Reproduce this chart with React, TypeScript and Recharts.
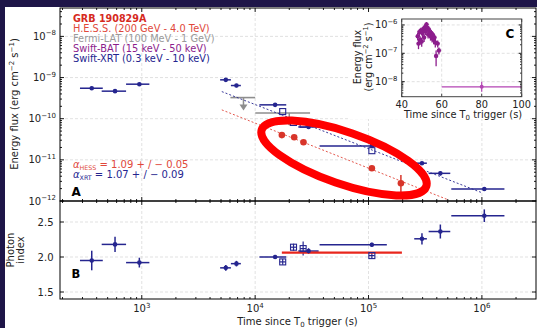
import React from 'react';
import { ScatterChart, Scatter, XAxis, YAxis, ErrorBar, ReferenceLine } from 'recharts';

const FONT = "'DejaVu Sans', sans-serif";
const NAVY = '#25258f';
const RED = '#d8352a';
const GRAY = '#8e8e8e';
const PURPLE = '#8c1d8c';
const MAGENTA = '#b345b3';
const GRID = '#d9d9d9';

// Swift-XRT, filled markers (flux in panel A, photon index in panel B)
const xrtTime = [362, 581, 952, 5510, 6840, 15000, 29600, 107000, 296000, 430000, 1050000];
const xrtTimeStart = [285, 443, 727, 4910, 6110, 10900, 24000, 37000, 253000, 339000, 537000];
const xrtTimeEnd = [453, 727, 1167, 6110, 7480, 18800, 36300, 145000, 327000, 526000, 1580000];
const xrtFlux = [5.5e-10, 4.67e-10, 6.9e-10, 8.8e-10, 6.4e-10, 2.17e-10, 6.3e-11, 2.18e-11, 8.3e-12, 4.7e-12, 1.96e-12];
const xrtFluxErr = [0.5e-10, 0.4e-10, 0.6e-10, 0.8e-10, 0.6e-10, 0.2e-10, 0.6e-11, 0.2e-11, 0.8e-12, 0.5e-12, 0.2e-12];
const xrtIndex = [1.95, 2.18, 1.92, 1.845, 1.905, 2.0, 2.085, 2.175, 2.26, 2.364, 2.59];
const xrtIndexErr = [0.14, 0.11, 0.07, 0.04, 0.04, 0.03, 0.04, 0.03, 0.08, 0.1, 0.09];

// Swift-XRT, open squares
const sqTime = [17500, 21800, 26500, 107000];
const sqFlux = [1.49e-10, 8.1e-11, 7.3e-11, 1.67e-11];
const sqIndex = [1.93, 2.14, 2.12, 2.02];
const sqIndexErr = [0.04, 0.05, 0.1, 0.04];

// H.E.S.S.
const hessTime = [17200, 22100, 26700, 107000, 193000];
const hessFlux = [4.0e-11, 3.55e-11, 2.68e-11, 6.25e-12, 2.7e-12];
const hessErrLo = [4e-12, 4e-12, 3e-12, 8e-13, 1.38e-12];
const hessErrHi = [4e-12, 4e-12, 3e-12, 8e-13, 1.6e-12];
const hessIndexTime = [17200, 197000];
const hessIndex = [2.062, 2.062];

// power-law fits (end points)
const hessFitTime = [5080, 508000];
const hessFitFlux = [1.64e-10, 1.06e-12];
const xrtFitTime = [5080, 1000000];
const xrtFitFlux = [4.56e-10, 1.59e-12];

// Fermi-LAT upper limits
const latTime = [7890, 20000];
const latStart = [6050, 10030];
const latEnd = [10000, 30500];
const latFlux = [3.26e-10, 1.38e-10];

// Swift-BAT (inset)
const batTime = [48, 48.4, 48.8, 49.2, 49.6, 50, 50.4, 50.8, 51.2, 51.6, 52, 52.4, 52.8, 53.2, 53.6, 54, 54.4, 54.8, 55.2, 55.6, 56, 56.4, 56.8, 57.2, 58, 58.6];
const batFlux = [4.0e-7, 2.2e-7, 5.6e-7, 3.0e-7, 6.4e-7, 2.6e-7, 5.0e-7, 7.2e-7, 3.6e-7, 8.4e-7, 6.0e-7, 1.05e-6, 8.0e-7, 4.6e-7, 7.0e-7, 5.4e-7, 4.0e-7, 5.2e-7, 3.4e-7, 4.4e-7, 3.0e-7, 3.6e-7, 2.4e-7, 0.8e-7, 2.2e-7, 1.25e-7];
const batErr = [1.2e-7, 0.8e-7, 1.5e-7, 1.0e-7, 1.6e-7, 0.9e-7, 1.4e-7, 1.8e-7, 1.1e-7, 2.0e-7, 1.6e-7, 2.2e-7, 2.0e-7, 1.3e-7, 1.8e-7, 1.5e-7, 1.2e-7, 1.4e-7, 1.0e-7, 1.2e-7, 0.9e-7, 1.0e-7, 0.8e-7, 0.45e-7, 0.6e-7, 0.35e-7];
const batLateTime = [80];
const batLateStart = [60];
const batLateEnd = [100];
const batLateFlux = [6.6e-9];
const batLateErrLo = [2.2e-9];
const batLateErrHi = [3.4e-9];

// ticks
const xMajors = [1e3, 1e4, 1e5, 1e6];
const xExps = ['3', '4', '5', '6'];
const fluxMajors = [1e-12, 1e-11, 1e-10, 1e-9, 1e-8];
const fluxExps = ['12', '11', '10', '9', '8'];
const idxMajors = [1.5, 2.0, 2.5];
const idxLabels = ['1.5', '2.0', '2.5'];
const insetXMajors = [40, 60, 80, 100];
const insetYMajors = [1e-8, 1e-7, 1e-6];
const insetYExps = ['8', '7', '6'];
const mults = [1, 2, 3, 4, 5, 6, 7, 8, 9];

const logTicks = (decades: number[], lo: number, hi: number) =>
  decades.flatMap((d) => mults.map((m) => m * d)).filter((v) => v >= lo && v <= hi);

const X_DOMAIN = [190, 3e6];
const FLUX_DOMAIN = [1e-12, 4.9e-8];
const IDX_DOMAIN = [1.4, 2.8];
const INSET_X_DOMAIN = [40, 100];
const INSET_Y_DOMAIN = [2.95e-9, 1.62e-6];

const xTicks = logTicks([1e2, 1e3, 1e4, 1e5, 1e6], X_DOMAIN[0], 2.9e6);
const fluxTicks = logTicks([1e-12, 1e-11, 1e-10, 1e-9, 1e-8], FLUX_DOMAIN[0], FLUX_DOMAIN[1]);
const insetYTicks = logTicks([1e-9, 1e-8, 1e-7, 1e-6], INSET_Y_DOMAIN[0], INSET_Y_DOMAIN[1]);

// plot boxes
const A = { left: 60, right: 536, top: 8, bottom: 201 };
const B = { left: 60, right: 536, top: 201, bottom: 299 };
const C = { left: 401.7, right: 521.7, top: 19, bottom: 96.7 };

const xrtA = xrtTime.map((t, i) => ({ x: t, y: xrtFlux[i], ex: [t - xrtTimeStart[i], xrtTimeEnd[i] - t], ey: xrtFluxErr[i] }));
const xrtB = xrtTime.map((t, i) => ({ x: t, y: xrtIndex[i], ex: [t - xrtTimeStart[i], xrtTimeEnd[i] - t], ey: xrtIndexErr[i] }));
const sqA = sqTime.map((t, i) => ({ x: t, y: sqFlux[i] }));
const sqB = sqTime.map((t, i) => ({ x: t, y: sqIndex[i], ex: t * 0.06, ey: sqIndexErr[i] }));
const hessA = hessTime.map((t, i) => ({ x: t, y: hessFlux[i], ex: t * 0.05, ey: [hessErrLo[i], hessErrHi[i]] }));
const hessB = hessIndexTime.map((t, i) => ({ x: t, y: hessIndex[i] }));
const hessFit = hessFitTime.map((t, i) => ({ x: t, y: hessFitFlux[i] }));
const xrtFit = xrtFitTime.map((t, i) => ({ x: t, y: xrtFitFlux[i] }));
const latA = latTime.map((t, i) => ({ x: t, y: latFlux[i], ex: [t - latStart[i], latEnd[i] - t] }));
const bat = batTime.map((t, i) => ({ x: t, y: batFlux[i], ex: 0.2, ey: batErr[i] }));
const batLate = batLateTime.map((t, i) => ({ x: t, y: batLateFlux[i], ex: [t - batLateStart[i], batLateEnd[i] - t], ey: [batLateErrLo[i], batLateErrHi[i]] }));

const pow10 = (exp: string, fs: number) => (
  <>
    <tspan>10</tspan>
    <tspan dy={-4.5} fontSize={fs * 0.7}>{'\u2212' + exp}</tspan>
  </>
);

const xTick = (box: any, majors: number[], labels: string[] | null) => (p: any) => {
  const v = p.payload.value;
  const x = p.x;
  const i = majors.indexOf(v);
  const len = i >= 0 ? 4 : 2;
  return (
    <g>
      <line x1={x} x2={x} y1={box.bottom} y2={box.bottom - len} stroke="#000" strokeWidth={0.9} />
      <line x1={x} x2={x} y1={box.top} y2={box.top + len} stroke="#000" strokeWidth={0.9} />
      {labels && i >= 0 && (
        <text x={x} y={box.bottom + 13} textAnchor="middle" fontSize={10} fontFamily={FONT} fill="#222">
          <tspan>10</tspan>
          <tspan dy={-4.5} fontSize={7}>{labels[i]}</tspan>
        </text>
      )}
    </g>
  );
};

const yTick = (box: any, majors: number[], render: (i: number) => any, labelX: number, fs: number, big = 4, small = 2) => (p: any) => {
  const v = p.payload.value;
  const y = p.y;
  const i = majors.indexOf(v);
  const len = i >= 0 ? big : small;
  return (
    <g>
      <line x1={box.left} x2={box.left + len} y1={y} y2={y} stroke="#000" strokeWidth={0.9} />
      <line x1={box.right - len} x2={box.right} y1={y} y2={y} stroke="#000" strokeWidth={0.9} />
      {i >= 0 && (
        <text x={labelX} y={y + 3.5} textAnchor="end" fontSize={fs} fontFamily={FONT} fill="#222">
          {render(i)}
        </text>
      )}
    </g>
  );
};

const insetXTick = (p: any) => {
  const v = p.payload.value;
  const x = p.x;
  return (
    <g>
      <line x1={x} x2={x} y1={C.bottom} y2={C.bottom - 3} stroke="#333" strokeWidth={0.9} />
      <line x1={x} x2={x} y1={C.top} y2={C.top + 3} stroke="#333" strokeWidth={0.9} />
      <text x={x} y={108} textAnchor="middle" fontSize={9.8} fontFamily={FONT} fill="#222">{v}</text>
    </g>
  );
};

const dot = (r: number, fill: string) => (p: any) => <circle cx={p.cx} cy={p.cy} r={r} fill={fill} />;
const openSquare = (p: any) => (
  <rect x={p.cx - 3} y={p.cy - 3} width={6} height={6} fill="none" stroke={NAVY} strokeWidth={1.1} />
);
const ulArrow = (p: any) => (
  <g>
    <line x1={p.cx} x2={p.cx} y1={p.cy} y2={p.cy + 8} stroke={GRAY} strokeWidth={1.5} />
    <path d={`M${p.cx - 4},${p.cy + 7} L${p.cx + 4},${p.cy + 7} L${p.cx},${p.cy + 13} Z`} fill={GRAY} />
  </g>
);
const noMark = () => <g />;

const gridLines = (xs: number[], ys: number[]) => [
  ...xs.map((v) => <ReferenceLine key={'gx' + v} x={v} stroke={GRID} strokeDasharray="3 2" strokeWidth={0.8} />),
  ...ys.map((v) => <ReferenceLine key={'gy' + v} y={v} stroke={GRID} strokeDasharray="3 2" strokeWidth={0.8} />),
];

const abs: React.CSSProperties = { position: 'absolute', left: 0, top: 0 };

export default function App() {
  return (
    <div style={{ position: 'absolute', left: 0, top: 0, width: 537, height: 328, background: '#1e1548', overflow: 'hidden', fontFamily: FONT }}>
      <div style={{ position: 'absolute', left: 5, top: 7, width: 532, height: 321, background: '#fff' }} />

      {/* panel A: energy flux */}
      <div style={abs}>
        <ScatterChart width={537} height={328} margin={{ top: A.top, right: 537 - A.right, bottom: 328 - A.bottom - 20, left: 0 }}>
          <XAxis type="number" dataKey="x" scale="log" domain={X_DOMAIN} allowDataOverflow ticks={xTicks} interval={0}
            tick={xTick(A, xMajors, null)} tickLine={false} axisLine={false} height={20} />
          <YAxis type="number" dataKey="y" scale="log" domain={FLUX_DOMAIN} allowDataOverflow ticks={fluxTicks} interval={0}
            tick={yTick(A, fluxMajors, (i) => pow10(fluxExps[i], 10), 56, 10)} tickLine={false} axisLine={false} width={A.left} />
          {gridLines(xMajors, [1e-11, 1e-10, 1e-9, 1e-8])}
          <Scatter data={xrtFit} shape={noMark} line={{ stroke: NAVY, strokeWidth: 0.9, strokeDasharray: '2 2' }} isAnimationActive={false} />
          <Scatter data={hessFit} shape={noMark} line={{ stroke: '#e0453a', strokeWidth: 0.9, strokeDasharray: '2 2' }} isAnimationActive={false} />
          <Scatter data={latA} shape={ulArrow} isAnimationActive={false}>
            <ErrorBar dataKey="ex" direction="x" width={0} stroke={GRAY} strokeWidth={1.6} />
          </Scatter>
          <Scatter data={xrtA} shape={dot(2.3, NAVY)} isAnimationActive={false}>
            <ErrorBar dataKey="ex" direction="x" width={0} stroke={NAVY} strokeWidth={1.5} />
            <ErrorBar dataKey="ey" direction="y" width={0} stroke={NAVY} strokeWidth={1.5} />
          </Scatter>
          <Scatter data={sqA} shape={openSquare} isAnimationActive={false} />
          <Scatter data={hessA} shape={dot(3.3, RED)} isAnimationActive={false}>
            <ErrorBar dataKey="ex" direction="x" width={0} stroke={RED} strokeWidth={1.5} />
            <ErrorBar dataKey="ey" direction="y" width={0} stroke={RED} strokeWidth={1.5} />
          </Scatter>
        </ScatterChart>
      </div>

      {/* panel B: photon index */}
      <div style={abs}>
        <ScatterChart width={537} height={328} margin={{ top: B.top, right: 537 - B.right, bottom: 0, left: 0 }}>
          <XAxis type="number" dataKey="x" scale="log" domain={X_DOMAIN} allowDataOverflow ticks={xTicks} interval={0}
            tick={xTick(B, xMajors, xExps)} tickLine={false} axisLine={false} height={328 - B.bottom} />
          <YAxis type="number" dataKey="y" domain={IDX_DOMAIN} allowDataOverflow ticks={idxMajors} interval={0}
            tick={yTick(B, idxMajors, (i) => idxLabels[i], 53.5, 10)} tickLine={false} axisLine={false} width={B.left} />
          {gridLines(xMajors, idxMajors)}
          <Scatter data={hessB} shape={noMark} line={{ stroke: '#e8261c', strokeWidth: 2.2 }} isAnimationActive={false} />
          <Scatter data={xrtB} shape={dot(2.3, NAVY)} isAnimationActive={false}>
            <ErrorBar dataKey="ex" direction="x" width={0} stroke={NAVY} strokeWidth={1.5} />
            <ErrorBar dataKey="ey" direction="y" width={0} stroke={NAVY} strokeWidth={1.5} />
          </Scatter>
          <Scatter data={sqB} shape={openSquare} isAnimationActive={false}>
            <ErrorBar dataKey="ex" direction="x" width={0} stroke={NAVY} strokeWidth={1.2} />
            <ErrorBar dataKey="ey" direction="y" width={0} stroke={NAVY} strokeWidth={1.2} />
          </Scatter>
        </ScatterChart>
      </div>

      {/* inset background */}
      <div style={{ position: 'absolute', left: 350, top: 13, width: 178, height: 106, background: '#fff' }} />

      {/* inset C: Swift-BAT */}
      <div style={abs}>
        <ScatterChart width={537} height={328} margin={{ top: C.top, right: 537 - C.right, bottom: 328 - C.bottom - 20, left: C.left - 40 }}>
          <XAxis type="number" dataKey="x" domain={INSET_X_DOMAIN} allowDataOverflow ticks={insetXMajors} interval={0}
            tick={insetXTick} tickLine={false} axisLine={false} height={20} />
          <YAxis type="number" dataKey="y" scale="log" domain={INSET_Y_DOMAIN} allowDataOverflow ticks={insetYTicks} interval={0}
            tick={yTick(C, insetYMajors, (i) => pow10(insetYExps[i], 9.8), 397.5, 9.8, 3, 1.6)} tickLine={false} axisLine={false} width={40} />
          {gridLines([60, 80], insetYMajors)}
          <Scatter data={batLate} shape={dot(2, MAGENTA)} isAnimationActive={false}>
            <ErrorBar dataKey="ex" direction="x" width={0} stroke={MAGENTA} strokeWidth={1.2} />
            <ErrorBar dataKey="ey" direction="y" width={0} stroke={MAGENTA} strokeWidth={1.2} />
          </Scatter>
          <Scatter data={bat} shape={dot(2.2, PURPLE)} isAnimationActive={false}>
            <ErrorBar dataKey="ex" direction="x" width={0} stroke={PURPLE} strokeWidth={1.3} />
            <ErrorBar dataKey="ey" direction="y" width={0} stroke={PURPLE} strokeWidth={1.3} />
          </Scatter>
        </ScatterChart>
      </div>

      {/* frames, labels and annotation */}
      <svg width={537} height={328} style={{ ...abs, pointerEvents: 'none' }} fontFamily={FONT}>
        <rect x={A.left} y={A.top} width={A.right - A.left} height={A.bottom - A.top} fill="none" stroke="#000" strokeWidth={1} />
        <rect x={B.left} y={B.top} width={B.right - B.left} height={B.bottom - B.top} fill="none" stroke="#000" strokeWidth={1} />
        <rect x={C.left} y={C.top} width={C.right - C.left} height={C.bottom - C.top} fill="none" stroke="#444" strokeWidth={1} />

        <text x={73} y={21.8} fontSize={9.6} fontWeight="bold" fill="#d62a1e">GRB 190829A</text>
        <text x={73} y={32} fontSize={9.8} fill="#e0483a">H.E.S.S. (200 GeV - 4.0 TeV)</text>
        <text x={73} y={41.5} fontSize={9.8} fill="#9a9a9a">Fermi-LAT (100 MeV - 1 GeV)</text>
        <text x={73} y={52} fontSize={9.8} fill={PURPLE}>Swift-BAT (15 keV - 50 keV)</text>
        <text x={73} y={62} fontSize={9.8} fill={NAVY}>Swift-XRT (0.3 keV - 10 keV)</text>

        <text x={73} y={167.5} fontSize={10} fill="#e0483a">
          <tspan fontStyle="italic">α</tspan>
          <tspan dy={2} fontSize={6.3}>HESS</tspan>
          <tspan dy={-2}> = 1.09 + / − 0.05</tspan>
        </text>
        <text x={73} y={178} fontSize={10} fill={NAVY}>
          <tspan fontStyle="italic">α</tspan>
          <tspan dy={2} fontSize={6.3}>XRT</tspan>
          <tspan dy={-2}> = 1.07 + / − 0.09</tspan>
        </text>

        <text x={71.5} y={196} fontSize={12} fontWeight="bold" fill="#000">A</text>
        <text x={71.5} y={277.7} fontSize={11.5} fontWeight="bold" fill="#000">B</text>
        <text x={510} y={38} fontSize={12} fontWeight="bold" fill="#000" textAnchor="middle">C</text>

        <text transform="translate(18,104) rotate(-90)" textAnchor="middle" fontSize={10} fill="#222">
          Energy flux (erg cm<tspan dy={-4} fontSize={7}>−2</tspan><tspan dy={4}> s</tspan><tspan dy={-4} fontSize={7}>−1</tspan><tspan dy={4}>)</tspan>
        </text>
        <text transform="translate(14,250) rotate(-90)" textAnchor="middle" fontSize={10} fill="#222">Photon</text>
        <text transform="translate(24,250) rotate(-90)" textAnchor="middle" fontSize={10} fill="#222">index</text>
        <text x={297.5} y={325} textAnchor="middle" fontSize={10} fill="#222">
          Time since T<tspan dy={2} fontSize={7}>0</tspan><tspan dy={-2}> trigger (s)</tspan>
        </text>

        <text transform="translate(361,57) rotate(-90)" textAnchor="middle" fontSize={9.6} fill="#222">Energy flux</text>
        <text transform="translate(372,57) rotate(-90)" textAnchor="middle" fontSize={9.6} fill="#222">
          (erg cm<tspan dy={-4} fontSize={6.8}>−2</tspan><tspan dy={4}> s</tspan><tspan dy={-4} fontSize={6.8}>−1</tspan><tspan dy={4}>)</tspan>
        </text>
        <text x={463} y={117.5} textAnchor="middle" fontSize={9.8} fill="#222">
          Time since T<tspan dy={2} fontSize={7}>0</tspan><tspan dy={-2}> trigger (s)</tspan>
        </text>

        <ellipse cx={344} cy={158} rx={87} ry={26} transform="rotate(19 344 158)" fill="none" stroke="#ff0000" strokeWidth={8} />
      </svg>
    </div>
  );
}
